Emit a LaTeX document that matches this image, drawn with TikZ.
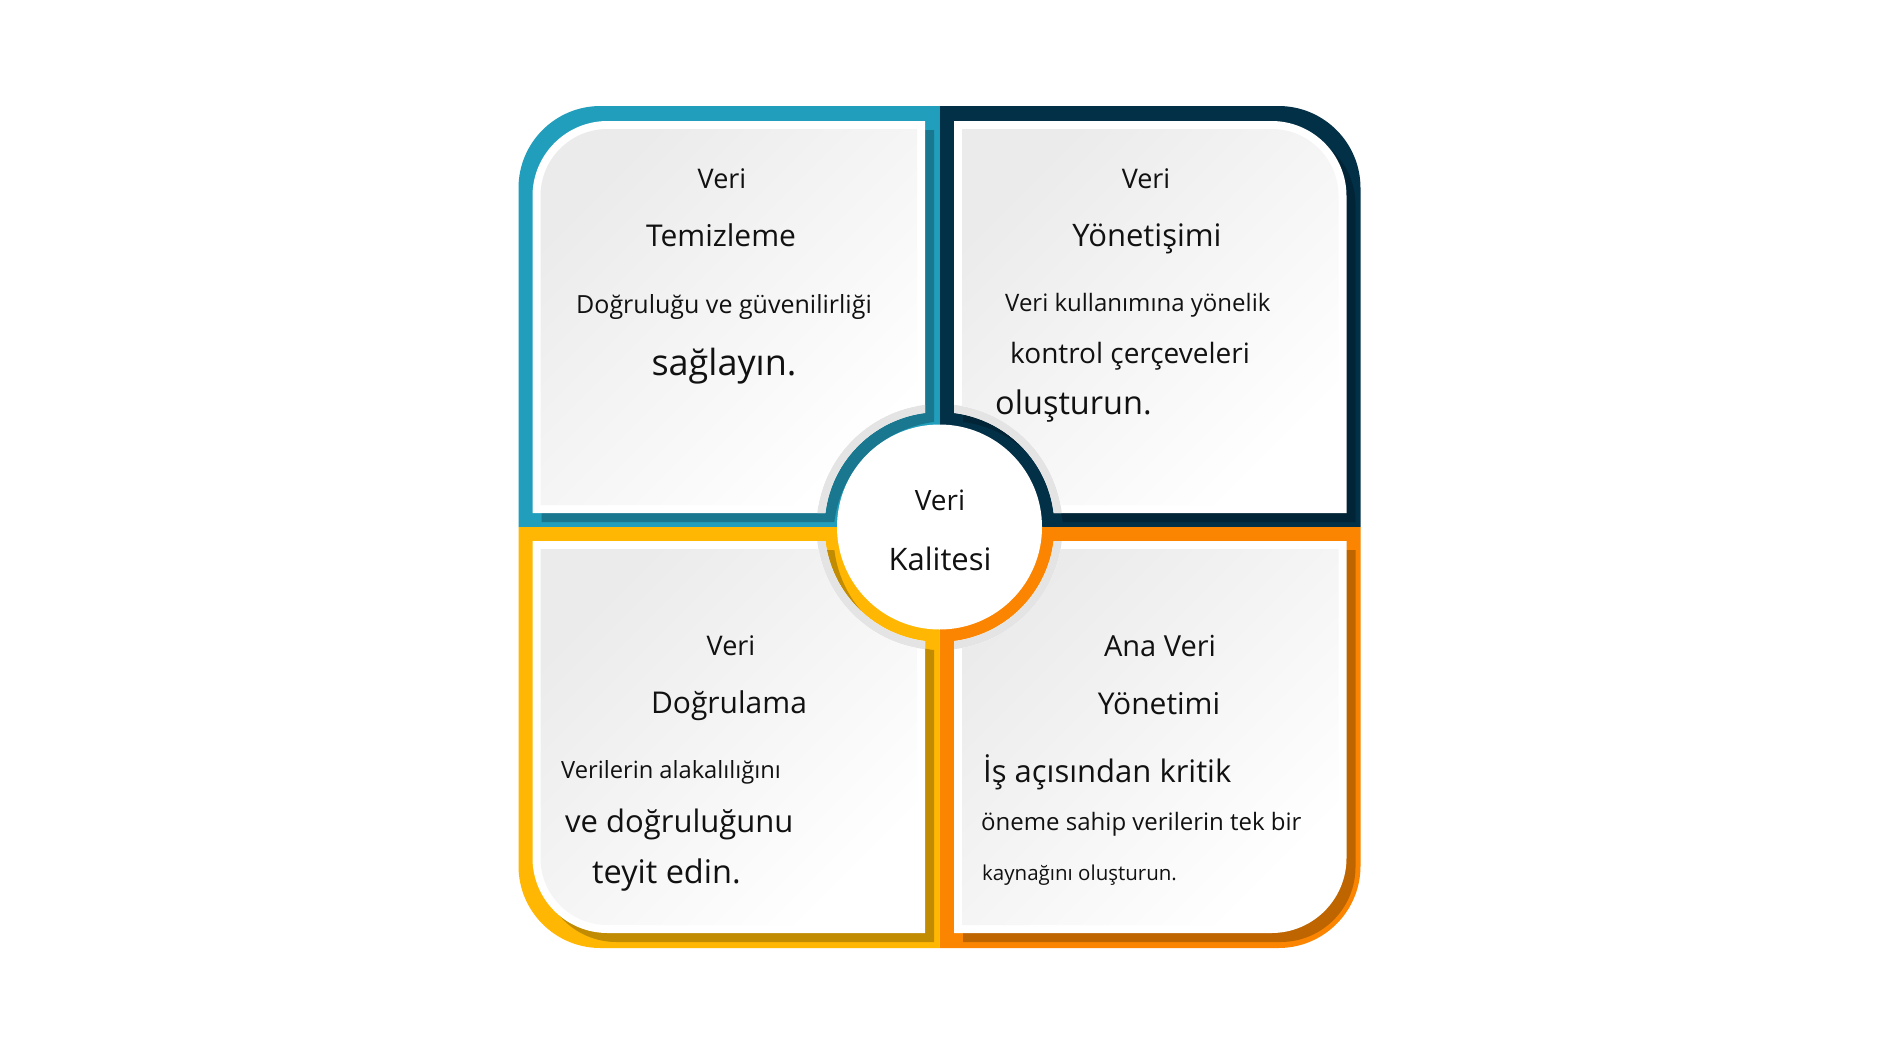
\documentclass[tikz,border=0pt]{standalone}
\usepackage{fontspec}
\setmainfont{Open Sans}
\usepackage{xcolor}

\definecolor{qteal}{HTML}{219EBC}
\definecolor{qnavy}{HTML}{023047}
\definecolor{qyellow}{HTML}{FFB703}
\definecolor{qorange}{HTML}{FB8500}
\definecolor{cardgray}{HTML}{EBEBEB}
\definecolor{rimgray}{HTML}{E4E4E4}
\definecolor{ink}{HTML}{111111}

\newcommand{\fs}[1]{\fontsize{#1}{#1}\selectfont}
% shapes of the top-left quarter, the centre at the origin
\newcommand{\quarterback}{(0,0) -- (-421,0) -- (-421,-339) arc[start angle=180, end angle=270, radius=82] -- (0,-421) -- cycle}
\newcommand{\cardouter}{(-14.5,-14) -- (-407,-14) -- (-407,-331) arc[start angle=180, end angle=270, radius=75] -- (-14.5,-406) -- cycle}
\newcommand{\cardinner}{(-22.5,-22) -- (-399,-22) -- (-399,-331) arc[start angle=180, end angle=270, radius=67] -- (-22.5,-398) -- cycle}
\newcommand{\hole}[1]{(-450,-450) rectangle (450,450) (0,0) circle (#1)}
\newcommand{\quadcard}[2]{%
  \begin{scope}[#1] \fill[#2] \quarterback; \end{scope}
  \begin{scope}[shift={(9,9)}]
    \begin{scope}[#1, even odd rule]
      \clip \hole{115};
      \fill[#2!60!black, opacity=.6] \cardouter;
    \end{scope}
  \end{scope}
  \begin{scope}[#1, even odd rule]
    \clip \hole{115};
    \fill[white] \cardouter;
    \begin{scope}
      \clip \cardouter;
      \fill[rimgray] (0,0) circle (123);
    \end{scope}
    \clip \hole{123};
    \shade[top color=cardgray, bottom color=white, shading angle=45] \cardinner;
  \end{scope}}

\begin{document}
\begin{tikzpicture}[x=1pt, y=-1pt]

\tikzset{qtl/.style = {shift={(939.5,527)}}}
\tikzset{qtr/.style = {shift={(939.5,527)}, xscale=-1}}
\tikzset{qbl/.style = {shift={(939.5,527)}, yscale=-1}}
\tikzset{qbr/.style = {shift={(939.5,527)}, scale=-1}}
\tikzset{txt/.style = {anchor=base, inner sep=0pt, text=ink}}
\tikzset{txtl/.style = {anchor=base west, inner sep=0pt, text=ink}}

\useasboundingbox (0,0) rectangle (1884,1060);
\fill[white] (0,0) rectangle (1884,1060);

%quarters
\quadcard{qtl}{qteal}
\quadcard{qtr}{qnavy}
\quadcard{qbl}{qyellow}
\quadcard{qbr}{qorange}

%centre
\coordinate (C) at (939.5,527);
\node[circle, fill=white, minimum size=205pt, inner sep=0pt] (core) at (C) {};
\node[txt, font=\fs{28}] (coreA) at (940,510) {Veri};
\node[txt, font=\fs{31}] (coreB) at (940,570) {Kalitesi};

%top left
\node[txt, font=\fs{27}] (tlA) at (722,188) {Veri};
\node[txt, font=\fs{30}] (tlB) at (721,246) {Temizleme};
\node[txt, font=\fs{25}] (tlC) at (724,313) {Doğruluğu ve güvenilirliği};
\node[txt, font=\fs{36}] (tlD) at (724,375) {sağlayın.};

%top right
\node[txt, font=\fs{27}] (trA) at (1146,188) {Veri};
\node[txt, font=\fs{31}] (trB) at (1147,246) {Yönetişimi};
\node[txtl, font=\fs{24}] (trC) at (1005,311) {Veri kullanımına yönelik};
\node[txtl, font=\fs{28}] (trD) at (1010,363) {kontrol çerçeveleri};
\node[txtl, font=\fs{32.5}] (trE) at (995,414) {oluşturun.};

%bottom left
\node[txt, font=\fs{27}] (blA) at (731,655) {Veri};
\node[txt, font=\fs{30}] (blB) at (729,713) {Doğrulama};
\node[txtl, font=\fs{23.7}] (blC) at (561,778) {Verilerin alakalılığını};
\node[txtl, font=\fs{31}] (blD) at (565,832) {ve doğruluğunu};
\node[txtl, font=\fs{32.5}] (blE) at (592,883) {teyit edin.};

%bottom right
\node[txt, font=\fs{29}] (brA) at (1160,656) {Ana Veri};
\node[txt, font=\fs{30}] (brB) at (1159,714) {Yönetimi};
\node[txtl, font=\fs{31}] (brC) at (983,782) {İş açısından kritik};
\node[txtl, font=\fs{24}] (brD) at (981,830) {öneme sahip verilerin tek bir};
\node[txtl, font=\fs{20.5}] (brE) at (982,880) {kaynağını oluşturun.};
\end{tikzpicture}
\end{document}
